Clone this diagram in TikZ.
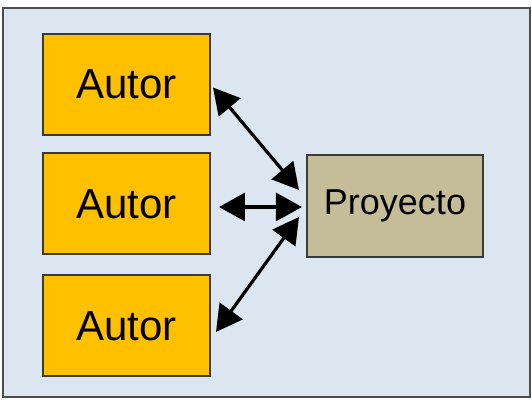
\documentclass[tikz,border=0pt]{standalone}
\usepackage{fontspec}
\setmainfont{Liberation Sans}
\usetikzlibrary{calc, positioning}
\usetikzlibrary{arrows.meta}

\definecolor{fondo}{HTML}{DCE6F1}
\definecolor{autorfill}{HTML}{FFC000}
\definecolor{proyfill}{HTML}{C4BD97}
\definecolor{borde}{HTML}{3A3A3A}

\tikzset{
  autorbox/.style={draw=borde, line width=1pt, fill=autorfill,
    minimum width=83.5pt, minimum height=50.5pt, font=\fontsize{21}{24}\selectfont},
  proybox/.style={draw=borde, line width=1pt, fill=proyfill,
    minimum width=88pt, minimum height=51pt, font=\fontsize{18}{21}\selectfont},
  rel/.style={line width=1.6pt, {Triangle[length=13pt,width=14pt]}-{Triangle[length=13pt,width=14pt]}}
}

\begin{document}
\begin{tikzpicture}[x=0.5pt,y=0.5pt]
\useasboundingbox (0,0) rectangle (532,400);

% Frame
\draw[fill=fondo, draw=gray!60!black, line width=1pt] (3,3) rectangle (530,392);

% Boxes
\node[autorbox] (A1) at (126.5,315.5) {Autor};
\node[autorbox] (A2) at (126.5,196) {Autor};
\node[autorbox] (A3) at (126.5,74) {Autor};
\node[proybox] (P) at (395,194) {Proyecto};

% Relations
\draw[rel] ($(A1.east)+(2,-3)$) -- ($(P.west)+(-7,16)$);
\draw[rel] ($(A2.east)+(8,-3)$) -- ($(P.west)+(-4,-1)$);
\draw[rel] ($(A3.east)+(5,-6)$) -- ($(P.west)+(-7,-11)$);
\end{tikzpicture}
\end{document}
